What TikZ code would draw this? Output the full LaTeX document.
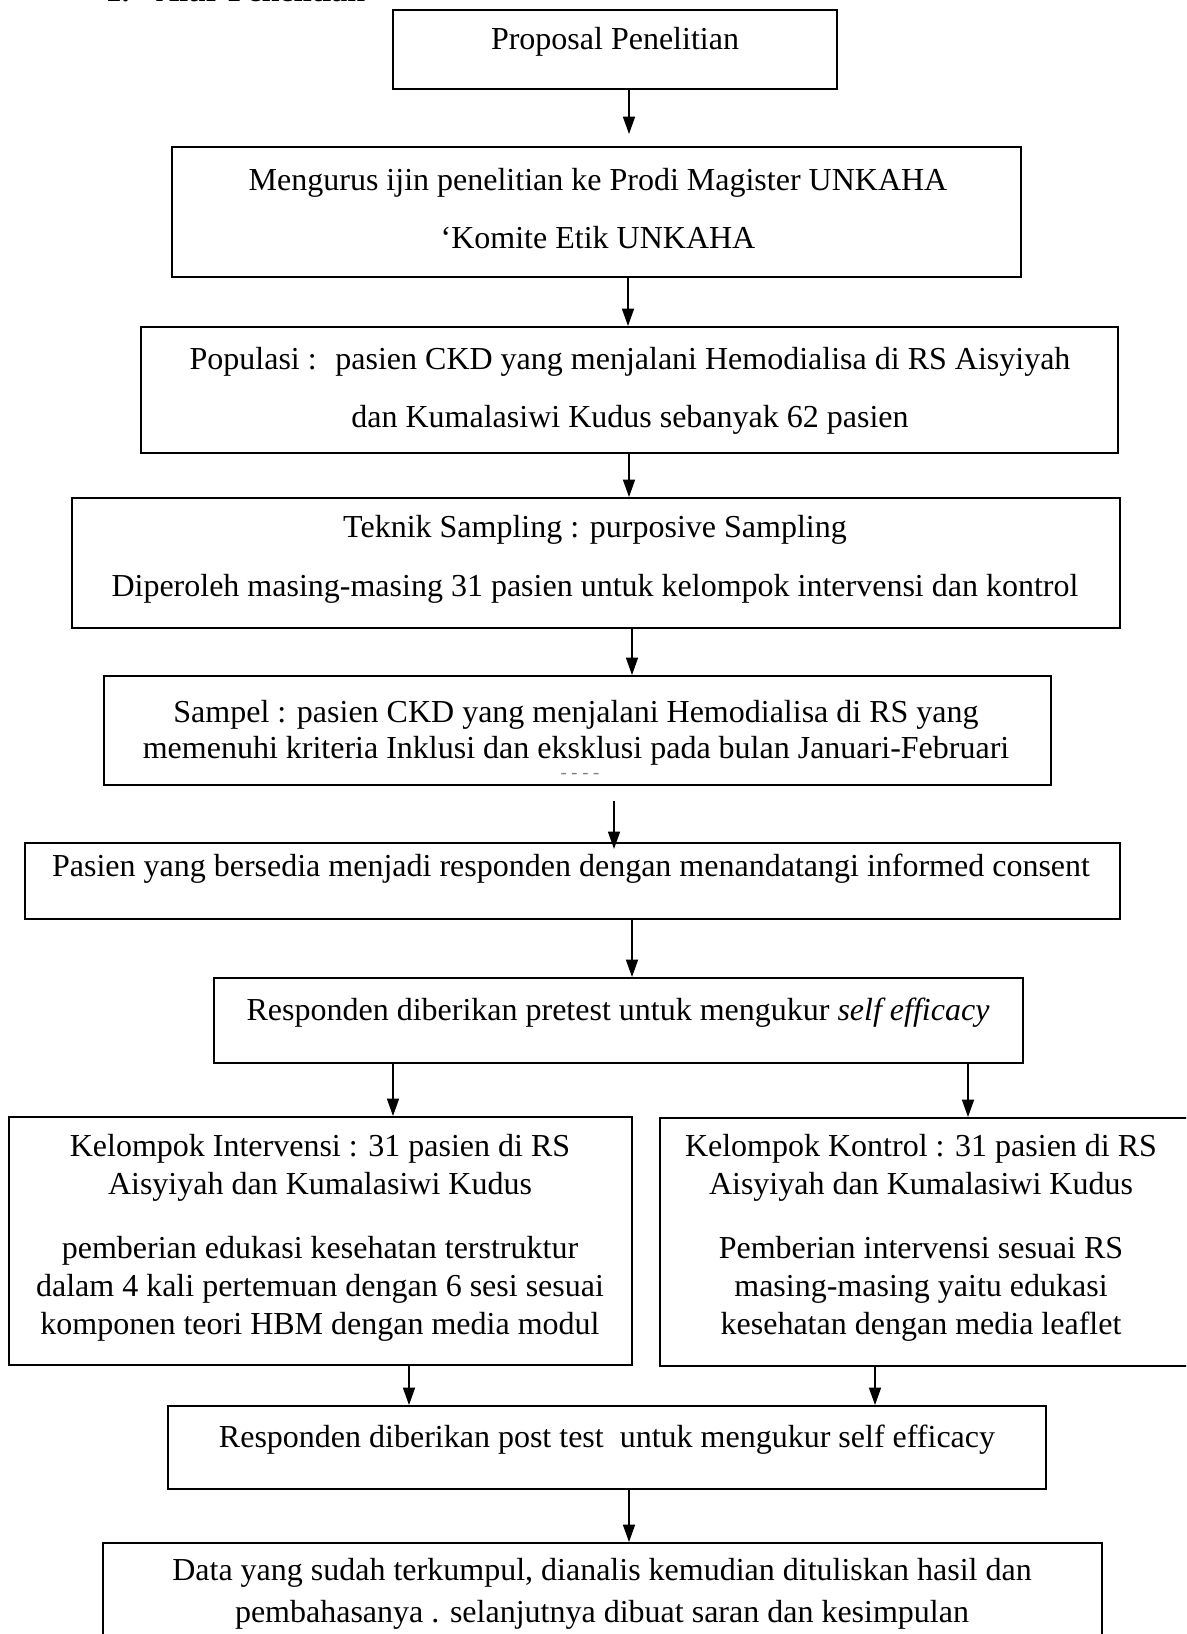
\documentclass[tikz,border=0pt]{standalone}
\usepackage{fontspec}
\setmainfont{Liberation Serif}
\usetikzlibrary{positioning, fit, arrows.meta}

\begin{document}
\begin{tikzpicture}[x=0.375pt, y=-0.375pt,
		box/.style={draw, line width=0.75pt, inner sep=0pt},
		txt/.style={align=center, inner sep=0pt, font=\fontsize{12}{14.25}\selectfont},
		txtwide/.style={txt, font=\fontsize{12}{22}\selectfont},
		arr/.style={line width=0.55pt, -{Triangle[length=6.5pt, width=4.5pt]}}]
	\useasboundingbox (0,0) rectangle (1186,1634);
	\clip (0,0) rectangle (1186,1634);

	\node[anchor=base west, inner sep=0pt, font=\fontsize{12}{14}\selectfont\bfseries] (judul) at (105,1.5) {1.\hspace{10pt}Alur Penelitian};

	\node[box, fit={(393,10) (837,89)}] (prop) {};
	\node[box, fit={(172,147) (1021,277)}] (ijin) {};
	\node[box, fit={(141,327) (1118,453)}] (populasi) {};
	\node[box, fit={(72,498) (1120,628)}] (teknik) {};
	\node[box, fit={(104,676) (1051,785)}] (sampel) {};
	\node[box, fit={(25,843) (1120,919)}] (consent) {};
	\node[box, fit={(214,978) (1023,1063)}] (pretest) {};
	\node[box, fit={(9,1117) (632,1365)}] (intervensi) {};
	\node[box, fit={(660,1118) (1210,1366)}] (kontrol) {};
	\node[box, fit={(168,1406) (1046,1489)}] (posttest) {};
	\node[box, fit={(103,1543) (1102,1670)}] (analisis) {};

	\node[txt] (tprop) at (615,42) {Proposal Penelitian};
	\node[txtwide] (tijin) at (598,208.5) {Mengurus ijin penelitian ke Prodi Magister UNKAHA\\‘Komite Etik UNKAHA};
	\node[txtwide] (tpopulasi) at (630,391) {Populasi :~ pasien CKD yang menjalani Hemodialisa di RS Aisyiyah\\dan Kumalasiwi Kudus sebanyak 62 pasien};
	\node[txtwide] (tteknik) at (595,559.5) {Teknik Sampling : purposive Sampling\\Diperoleh masing-masing 31 pasien untuk kelompok intervensi dan kontrol};
	\node[txt, font=\fontsize{12}{13.5}\selectfont] (tsampel) at (576,732.5) {Sampel : pasien CKD yang menjalani Hemodialisa di RS yang\\memenuhi kriteria Inklusi dan eksklusi pada bulan Januari-Februari};
	\node[inner sep=0pt, font=\fontsize{7}{7}\selectfont, text=gray] (tgaris) at (580,776) {-~-~-~-};
	\node[txt] (tconsent) at (571,869) {Pasien yang bersedia menjadi responden dengan menandatangi informed consent};
	\node[txt] (tpretest) at (618,1013) {Responden diberikan pretest untuk mengukur \textit{self efficacy}};
	\node[txt] (tintervensi) at (320,1237.5) {Kelompok Intervensi : 31 pasien di RS\\Aisyiyah dan Kumalasiwi Kudus\\[9.75pt]pemberian edukasi kesehatan terstruktur\\dalam 4 kali pertemuan dengan 6 sesi sesuai\\komponen teori HBM dengan media modul};
	\node[txt] (tkontrol) at (921,1237.5) {Kelompok Kontrol : 31 pasien di RS\\Aisyiyah dan Kumalasiwi Kudus\\[9.75pt]Pemberian intervensi sesuai RS\\masing-masing yaitu edukasi\\kesehatan dengan media leaflet};
	\node[txt] (tposttest) at (607,1440) {Responden diberikan post test~ untuk mengukur self efficacy};
	\node[txt, font=\fontsize{12}{15.75}\selectfont] (tanalisis) at (602,1594) {Data yang sudah terkumpul, dianalis kemudian dituliskan hasil dan\\pembahasanya . selanjutnya dibuat saran dan kesimpulan};

	\draw[arr, shorten >=4.5pt] (prop.south -| 629,0) -- (ijin.north -| 629,0);
	\draw[arr] (ijin.south -| 628,0) -- (populasi.north -| 628,0);
	\draw[arr] (populasi.south -| 629,0) -- (teknik.north -| 629,0);
	\draw[arr] (teknik.south -| 632,0) -- (sampel.north -| 632,0);
	\draw[arr, shorten <=5.6pt, shorten >=-2.6pt] (sampel.south -| 614,0) -- (consent.north -| 614,0);
	\draw[arr] (consent.south -| 632,0) -- (pretest.north -| 632,0);
	\draw[arr] (pretest.south -| 393,0) -- (intervensi.north -| 393,0);
	\draw[arr] (pretest.south -| 968,0) -- (kontrol.north -| 968,0);
	\draw[arr] (intervensi.south -| 409,0) -- (posttest.north -| 409,0);
	\draw[arr] (kontrol.south -| 875,0) -- (posttest.north -| 875,0);
	\draw[arr] (posttest.south -| 629,0) -- (analisis.north -| 629,0);
\end{tikzpicture}
\end{document}
